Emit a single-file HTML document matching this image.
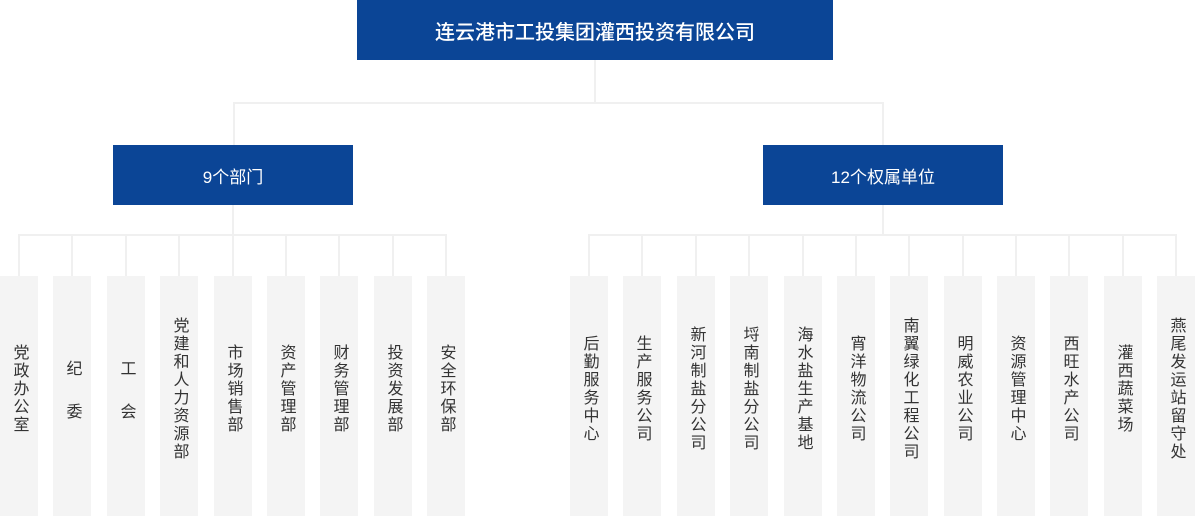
<!DOCTYPE html>
<html><head><meta charset="utf-8"><style>
body{margin:0;width:1195px;height:516px;position:relative;background:#fff;font-family:"Liberation Sans","Noto Sans CJK SC",sans-serif;overflow:hidden}
.b{position:absolute;background:#0b4596;color:#fff;display:flex;align-items:center;justify-content:center}
.l{position:absolute;background:#f0f0f0}
.c{position:absolute;top:276px;width:38px;height:240px;background:#f4f4f4;display:flex;align-items:center;justify-content:center}
.c span{writing-mode:vertical-rl;font-size:16px;line-height:19px;letter-spacing:2px;color:#333;margin-bottom:14px}
.c span.w{letter-spacing:27px;margin-bottom:-13px}
</style></head><body>
<div class="b" style="left:357px;top:0;width:476px;height:60px;font-size:20px;font-weight:500">连云港市工投集团灌西投资有限公司</div>
<div class="b" style="left:113px;top:145px;width:240px;height:60px;font-size:17px">9个部门</div>
<div class="b" style="left:763px;top:145px;width:240px;height:60px;font-size:17px">12个权属单位</div>
<div class="l" style="left:594px;top:60px;width:2px;height:43px"></div>
<div class="l" style="left:233px;top:102px;width:651px;height:2px"></div>
<div class="l" style="left:233px;top:102px;width:2px;height:43px"></div>
<div class="l" style="left:882px;top:102px;width:2px;height:43px"></div>
<div class="l" style="left:232px;top:205px;width:2px;height:30px"></div>
<div class="l" style="left:882px;top:205px;width:2px;height:30px"></div>
<div class="l" style="left:18px;top:234px;width:429px;height:2px"></div>
<div class="l" style="left:588px;top:234px;width:589px;height:2px"></div>
<div id="cols"></div>
<script>
var L=[[0,"党政办公室"],[53,"纪委",1],[107,"工会",1],[160,"党建和人力资源部"],[214,"市场销售部"],[267,"资产管理部"],[320,"财务管理部"],[374,"投资发展部"],[427,"安全环保部"],
[570,"后勤服务中心"],[623,"生产服务公司"],[677,"新河制盐分公司"],[730,"埒南制盐分公司"],[784,"海水盐生产基地"],[837,"宵洋物流公司"],[890,"南翼绿化工程公司"],[944,"明威农业公司"],[997,"资源管理中心"],[1050,"西旺水产公司"],[1104,"灌西蔬菜场"],[1157,"燕尾发运站留守处"]];
var h="";L.forEach(function(a){h+='<div class="l" style="left:'+(a[0]+18)+'px;top:235px;width:2px;height:41px"></div><div class="c" style="left:'+a[0]+'px"><span'+(a[2]?' class="w"':'')+'>'+a[1]+'</span></div>';});
document.getElementById("cols").innerHTML=h;
</script>
</body></html>
